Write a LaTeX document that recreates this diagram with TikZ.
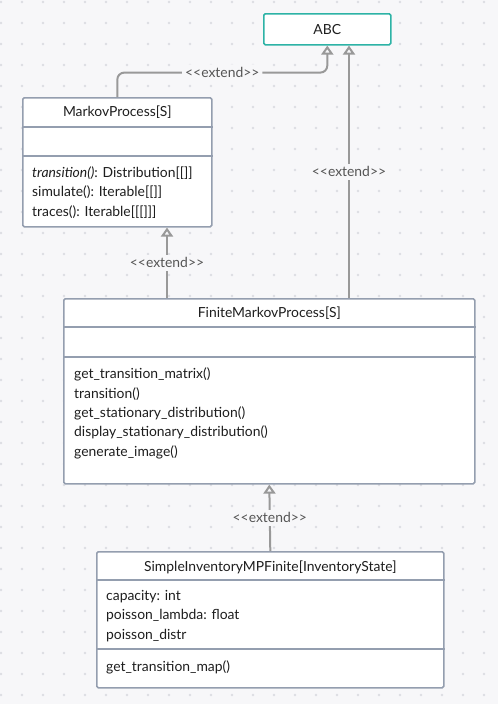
\documentclass[tikz,border=0pt]{standalone}
\usepackage{fontspec}
\setmainfont{Lato}
\usetikzlibrary{calc}
\usetikzlibrary{arrows.meta}
\definecolor{bgc}{HTML}{F7F7F9}
\definecolor{dotc}{HTML}{DCDDE2}
\definecolor{boxc}{HTML}{949EAF}
\definecolor{abcc}{HTML}{2DB3A6}
\definecolor{linec}{HTML}{999999}
\definecolor{lblc}{HTML}{555555}
\definecolor{txtc}{HTML}{1E1E1E}
\newcommand{\extlbl}{<\kern0pt<extend>\kern0pt>}

\begin{document}
\begin{tikzpicture}[x=1pt,y=-1pt,
 cls/.style={draw=boxc,line width=1.6pt,fill=white,rounded corners=1.5pt,anchor=north west,inner sep=0pt,
  font=\fontsize{13.9}{16}\selectfont,text=txtc},
 ttl/.style={font=\fontsize{13.9}{16}\selectfont,text=txtc},
 sep/.style={draw=boxc,line width=1.6pt},
 ops/.style={font=\fontsize{13.9}{19.3}\selectfont,text=txtc,align=left,anchor=base west,inner sep=0pt},
 ext/.style={draw=linec,line width=2pt,-{Triangle[open,length=9pt,width=12pt,line width=2pt]}},
 lbl/.style={fill=bgc,text=lblc,font=\fontsize{13.9}{16}\selectfont,inner sep=3pt}]
\fill[bgc] (0,0) rectangle (498,704);
\useasboundingbox (0,0) rectangle (498,704);
\foreach \x in {1,22,...,498}
 \foreach \y in {2,23,...,704}
  \fill[dotc] (\x,\y) circle (1.3pt);

% classes
\node[cls,draw=abcc,minimum width=127pt,minimum height=31pt] (abc) at (263,13) {ABC};

\node[cls,minimum width=189pt,minimum height=129pt] (mp) at (22,97) {};
\node[ttl] (mpt) at ($(mp.north)+(0,15)$) {MarkovProcess[S]};
\draw[sep] ($(mp.north west)+(0,30)$) -- ($(mp.north east)+(0,30)$);
\draw[sep] ($(mp.north west)+(0,59)$) -- ($(mp.north east)+(0,59)$);
\node[ops] (mpo) at (32,216) {\textit{transition()}: Distribution[[]]\\simulate(): Iterable[[]]\\traces(): Iterable[[[]]]};

\node[cls,minimum width=411pt,minimum height=185pt] (fmp) at (63,298) {};
\node[ttl] (fmpt) at ($(fmp.north)+(0,15)$) {FiniteMarkovProcess[S]};
\draw[sep] ($(fmp.north west)+(0,29)$) -- ($(fmp.north east)+(0,29)$);
\draw[sep] ($(fmp.north west)+(0,59)$) -- ($(fmp.north east)+(0,59)$);
\node[ops] (fmpo) at (74,456) {get\_transition\_matrix()\\transition()\\get\_stationary\_distribution()\\display\_stationary\_distribution()\\generate\_image()};

\node[cls,minimum width=347pt,minimum height=136pt] (si) at (96,551) {};
\node[ttl] (sit) at ($(si.north)+(0,16)$) {SimpleInventoryMPFinite[InventoryState]};
\draw[sep] ($(si.north west)+(0,29)$) -- ($(si.north east)+(0,29)$);
\draw[sep] ($(si.north west)+(0,98)$) -- ($(si.north east)+(0,98)$);
\node[ops] (sia) at (106,639) {capacity: int\\poisson\_lambda: float\\poisson\_distr};
\node[ops] (sio) at (106,671) {get\_transition\_map()};

% extends
\draw[ext,rounded corners=7pt] (mp.north) |- node[lbl,pos=.75]{\extlbl} ($(abc.south)+(0,27)$) -- (abc.south);
\draw[ext] ($(fmp.north west)+(286,0)$) -- node[lbl]{\extlbl} ($(abc.south west)+(86,0)$);
\draw[ext] ($(fmp.north west)+(104,0)$) -- node[lbl]{\extlbl} ($(mp.south west)+(145,0)$);
\draw[ext] (si.north) -- node[lbl]{\extlbl} (fmp.south);
\end{tikzpicture}
\end{document}
